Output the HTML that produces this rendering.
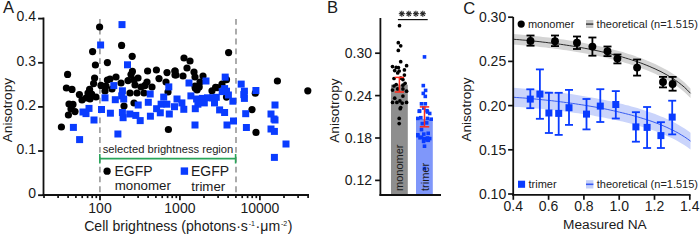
<!DOCTYPE html>
<html><head><meta charset="utf-8"><style>html,body{margin:0;padding:0;background:#fff;width:700px;height:235px;overflow:hidden}svg{display:block}text{font-family:"Liberation Sans",sans-serif}</style></head>
<body><svg width="700" height="235" viewBox="0 0 700 235">
<rect width="700" height="235" fill="#fff"/>
<text x="3" y="12.9" font-size="16.6" font-family="'Liberation Sans', sans-serif" fill="#1a1a1a">A</text>
<line x1="43.5" y1="17.5" x2="43.5" y2="196" stroke="#111" stroke-width="1.8"/>
<line x1="38.1" y1="195.2" x2="43.5" y2="195.2" stroke="#111" stroke-width="1.8"/>
<text x="36" y="198.0" font-size="14" text-anchor="end" font-family="'Liberation Sans', sans-serif" fill="#1a1a1a">0</text>
<line x1="38.1" y1="151.0" x2="43.5" y2="151.0" stroke="#111" stroke-width="1.8"/>
<text x="36" y="153.8" font-size="14" text-anchor="end" font-family="'Liberation Sans', sans-serif" fill="#1a1a1a">0.1</text>
<line x1="38.1" y1="106.9" x2="43.5" y2="106.9" stroke="#111" stroke-width="1.8"/>
<text x="36" y="109.7" font-size="14" text-anchor="end" font-family="'Liberation Sans', sans-serif" fill="#1a1a1a">0.2</text>
<line x1="38.1" y1="62.8" x2="43.5" y2="62.8" stroke="#111" stroke-width="1.8"/>
<text x="36" y="65.6" font-size="14" text-anchor="end" font-family="'Liberation Sans', sans-serif" fill="#1a1a1a">0.3</text>
<line x1="38.1" y1="18.6" x2="43.5" y2="18.6" stroke="#111" stroke-width="1.8"/>
<text x="36" y="21.4" font-size="14" text-anchor="end" font-family="'Liberation Sans', sans-serif" fill="#1a1a1a">0.4</text>
<line x1="42.6" y1="195" x2="309" y2="195" stroke="#111" stroke-width="1.8"/>
<line x1="44.0" y1="195" x2="44.0" y2="198.1" stroke="#111" stroke-width="1.7"/>
<line x1="58.1" y1="195" x2="58.1" y2="198.1" stroke="#111" stroke-width="1.7"/>
<line x1="68.1" y1="195" x2="68.1" y2="198.1" stroke="#111" stroke-width="1.7"/>
<line x1="75.9" y1="195" x2="75.9" y2="198.1" stroke="#111" stroke-width="1.7"/>
<line x1="82.2" y1="195" x2="82.2" y2="198.1" stroke="#111" stroke-width="1.7"/>
<line x1="87.6" y1="195" x2="87.6" y2="198.1" stroke="#111" stroke-width="1.7"/>
<line x1="92.2" y1="195" x2="92.2" y2="198.1" stroke="#111" stroke-width="1.7"/>
<line x1="96.3" y1="195" x2="96.3" y2="198.1" stroke="#111" stroke-width="1.7"/>
<line x1="100.0" y1="195" x2="100.0" y2="200.2" stroke="#111" stroke-width="1.8"/>
<line x1="124.0" y1="195" x2="124.0" y2="198.1" stroke="#111" stroke-width="1.7"/>
<line x1="138.1" y1="195" x2="138.1" y2="198.1" stroke="#111" stroke-width="1.7"/>
<line x1="148.1" y1="195" x2="148.1" y2="198.1" stroke="#111" stroke-width="1.7"/>
<line x1="155.9" y1="195" x2="155.9" y2="198.1" stroke="#111" stroke-width="1.7"/>
<line x1="162.2" y1="195" x2="162.2" y2="198.1" stroke="#111" stroke-width="1.7"/>
<line x1="167.6" y1="195" x2="167.6" y2="198.1" stroke="#111" stroke-width="1.7"/>
<line x1="172.2" y1="195" x2="172.2" y2="198.1" stroke="#111" stroke-width="1.7"/>
<line x1="176.3" y1="195" x2="176.3" y2="198.1" stroke="#111" stroke-width="1.7"/>
<line x1="179.9" y1="195" x2="179.9" y2="200.2" stroke="#111" stroke-width="1.8"/>
<line x1="204.0" y1="195" x2="204.0" y2="198.1" stroke="#111" stroke-width="1.7"/>
<line x1="218.1" y1="195" x2="218.1" y2="198.1" stroke="#111" stroke-width="1.7"/>
<line x1="228.1" y1="195" x2="228.1" y2="198.1" stroke="#111" stroke-width="1.7"/>
<line x1="235.9" y1="195" x2="235.9" y2="198.1" stroke="#111" stroke-width="1.7"/>
<line x1="242.2" y1="195" x2="242.2" y2="198.1" stroke="#111" stroke-width="1.7"/>
<line x1="247.6" y1="195" x2="247.6" y2="198.1" stroke="#111" stroke-width="1.7"/>
<line x1="252.2" y1="195" x2="252.2" y2="198.1" stroke="#111" stroke-width="1.7"/>
<line x1="256.3" y1="195" x2="256.3" y2="198.1" stroke="#111" stroke-width="1.7"/>
<line x1="259.9" y1="195" x2="259.9" y2="200.2" stroke="#111" stroke-width="1.8"/>
<line x1="284.0" y1="195" x2="284.0" y2="198.1" stroke="#111" stroke-width="1.7"/>
<line x1="298.1" y1="195" x2="298.1" y2="198.1" stroke="#111" stroke-width="1.7"/>
<line x1="308.1" y1="195" x2="308.1" y2="198.1" stroke="#111" stroke-width="1.7"/>
<text x="100.0" y="212.8" font-size="14" text-anchor="middle" font-family="'Liberation Sans', sans-serif" fill="#1a1a1a">100</text>
<text x="179.9" y="212.8" font-size="14" text-anchor="middle" font-family="'Liberation Sans', sans-serif" fill="#1a1a1a">1000</text>
<text x="259.9" y="212.8" font-size="14" text-anchor="middle" font-family="'Liberation Sans', sans-serif" fill="#1a1a1a">10000</text>
<text x="84.2" y="230.9" font-size="14.1" font-family="'Liberation Sans', sans-serif" fill="#1a1a1a">Cell brightness (photons·s<tspan font-size="7" dy="-4.6" dx="0.8">-1</tspan><tspan dy="4.6" dx="0.6">·μm</tspan><tspan font-size="7" dy="-4.6" dx="0.8">-2</tspan><tspan dy="4.6" dx="0.6">)</tspan></text>
<text transform="translate(12,142.2) rotate(-90)" font-size="13.6" font-family="'Liberation Sans', sans-serif" fill="#1a1a1a">Anisotropy</text>
<line x1="99.9" y1="18.9" x2="99.9" y2="195" stroke="#a3a3a3" stroke-width="1.8" stroke-dasharray="5.8,4.05"/>
<line x1="236.0" y1="18.9" x2="236.0" y2="195" stroke="#a3a3a3" stroke-width="1.8" stroke-dasharray="5.8,4.05"/>
<g stroke="#2aa55a" stroke-width="1.6" fill="none"><line x1="99.8" y1="158.6" x2="235.6" y2="158.6"/><line x1="99.8" y1="154" x2="99.8" y2="163.5"/><line x1="235.6" y1="154" x2="235.6" y2="163.5"/></g>
<text x="102.7" y="152.6" font-size="11.2" font-family="'Liberation Sans', sans-serif" fill="#1a1a1a">selected brightness region</text>
<circle cx="107.1" cy="171.2" r="3.65" fill="#000"/>
<text x="114.5" y="176.3" font-size="14" font-family="'Liberation Sans', sans-serif" fill="#1a1a1a">EGFP</text>
<text x="114.7" y="189.6" font-size="13.3" font-family="'Liberation Sans', sans-serif" fill="#1a1a1a">monomer</text>
<rect x="180.7" y="167.4" width="7.4" height="7.4" fill="#0a3cff"/>
<text x="191" y="176.3" font-size="14" font-family="'Liberation Sans', sans-serif" fill="#1a1a1a">EGFP</text>
<text x="191.3" y="190.9" font-size="13.3" font-family="'Liberation Sans', sans-serif" fill="#1a1a1a">trimer</text>
<text x="327" y="12.9" font-size="16.6" font-family="'Liberation Sans', sans-serif" fill="#1a1a1a">B</text>
<rect x="391" y="84.7" width="16.8" height="110.3" fill="#8e8e8e"/>
<rect x="416" y="118.9" width="16.8" height="76.1" fill="#7f97fa"/>
<line x1="380.4" y1="18" x2="380.4" y2="195.8" stroke="#111" stroke-width="1.8"/>
<line x1="379.5" y1="195" x2="441" y2="195" stroke="#111" stroke-width="1.8"/>
<line x1="375.1" y1="53.2" x2="380.4" y2="53.2" stroke="#111" stroke-width="1.7"/>
<text x="372" y="58.1" font-size="14" text-anchor="end" font-family="'Liberation Sans', sans-serif" fill="#1a1a1a">0.30</text>
<line x1="375.1" y1="95.6" x2="380.4" y2="95.6" stroke="#111" stroke-width="1.7"/>
<text x="372" y="100.5" font-size="14" text-anchor="end" font-family="'Liberation Sans', sans-serif" fill="#1a1a1a">0.24</text>
<line x1="375.1" y1="138.0" x2="380.4" y2="138.0" stroke="#111" stroke-width="1.7"/>
<text x="372" y="142.9" font-size="14" text-anchor="end" font-family="'Liberation Sans', sans-serif" fill="#1a1a1a">0.18</text>
<line x1="375.1" y1="180.4" x2="380.4" y2="180.4" stroke="#111" stroke-width="1.7"/>
<text x="372" y="185.3" font-size="14" text-anchor="end" font-family="'Liberation Sans', sans-serif" fill="#1a1a1a">0.12</text>
<text transform="translate(339.3,142.7) rotate(-90)" font-size="13.6" font-family="'Liberation Sans', sans-serif" fill="#1a1a1a">Anisotropy</text>
<line x1="397.9" y1="19.6" x2="427.7" y2="19.6" stroke="#111" stroke-width="1.2"/>
<g stroke="#222" stroke-width="1.1"><line x1="401.8" y1="10.7" x2="401.8" y2="16.7"/><line x1="398.8" y1="13.7" x2="404.8" y2="13.7"/><line x1="399.7" y1="11.6" x2="403.90000000000003" y2="15.799999999999999"/><line x1="399.7" y1="15.799999999999999" x2="403.90000000000003" y2="11.6"/></g>
<g stroke="#222" stroke-width="1.1"><line x1="408.8" y1="10.7" x2="408.8" y2="16.7"/><line x1="405.8" y1="13.7" x2="411.8" y2="13.7"/><line x1="406.7" y1="11.6" x2="410.90000000000003" y2="15.799999999999999"/><line x1="406.7" y1="15.799999999999999" x2="410.90000000000003" y2="11.6"/></g>
<g stroke="#222" stroke-width="1.1"><line x1="415.9" y1="10.7" x2="415.9" y2="16.7"/><line x1="412.9" y1="13.7" x2="418.9" y2="13.7"/><line x1="413.79999999999995" y1="11.6" x2="418.0" y2="15.799999999999999"/><line x1="413.79999999999995" y1="15.799999999999999" x2="418.0" y2="11.6"/></g>
<g stroke="#222" stroke-width="1.1"><line x1="422.8" y1="10.7" x2="422.8" y2="16.7"/><line x1="419.8" y1="13.7" x2="425.8" y2="13.7"/><line x1="420.7" y1="11.6" x2="424.90000000000003" y2="15.799999999999999"/><line x1="420.7" y1="15.799999999999999" x2="424.90000000000003" y2="11.6"/></g>
<circle cx="399.5" cy="25.7" r="1.85" fill="#000"/>
<circle cx="398.3" cy="42.7" r="1.85" fill="#000"/>
<circle cx="400.7" cy="45.8" r="1.85" fill="#000"/>
<circle cx="398.3" cy="50.4" r="1.85" fill="#000"/>
<circle cx="400.7" cy="61.7" r="1.85" fill="#000"/>
<circle cx="392.5" cy="66.6" r="1.85" fill="#000"/>
<circle cx="406.6" cy="65.7" r="1.85" fill="#000"/>
<circle cx="396.2" cy="67.4" r="1.85" fill="#000"/>
<circle cx="398.4" cy="67.6" r="1.85" fill="#000"/>
<circle cx="394.7" cy="70.6" r="1.85" fill="#000"/>
<circle cx="399.2" cy="71" r="1.85" fill="#000"/>
<circle cx="404.4" cy="69.9" r="1.85" fill="#000"/>
<circle cx="397.7" cy="72.9" r="1.85" fill="#000"/>
<circle cx="404.4" cy="75.1" r="1.85" fill="#000"/>
<circle cx="394" cy="78.5" r="1.85" fill="#000"/>
<circle cx="400.7" cy="78.1" r="1.85" fill="#000"/>
<circle cx="402.9" cy="79.6" r="1.85" fill="#000"/>
<circle cx="394" cy="86" r="1.85" fill="#000"/>
<circle cx="396.2" cy="84.5" r="1.85" fill="#000"/>
<circle cx="402.9" cy="85.2" r="1.85" fill="#000"/>
<circle cx="405.1" cy="83.3" r="1.85" fill="#000"/>
<circle cx="392.5" cy="90.1" r="1.85" fill="#000"/>
<circle cx="397.7" cy="88.9" r="1.85" fill="#000"/>
<circle cx="402.9" cy="88.9" r="1.85" fill="#000"/>
<circle cx="406.6" cy="91.2" r="1.85" fill="#000"/>
<circle cx="394.7" cy="98.2" r="1.85" fill="#000"/>
<circle cx="402.9" cy="96.1" r="1.85" fill="#000"/>
<circle cx="392.5" cy="102.4" r="1.85" fill="#000"/>
<circle cx="396.9" cy="102.4" r="1.85" fill="#000"/>
<circle cx="399.9" cy="100.9" r="1.85" fill="#000"/>
<circle cx="402.2" cy="103.1" r="1.85" fill="#000"/>
<circle cx="406.6" cy="102.4" r="1.85" fill="#000"/>
<circle cx="400.7" cy="107.6" r="1.85" fill="#000"/>
<circle cx="400.2" cy="108.7" r="1.85" fill="#000"/>
<circle cx="399.2" cy="118.4" r="1.85" fill="#000"/>
<circle cx="399.2" cy="123.6" r="1.85" fill="#000"/>
<rect x="422.7" y="55.1" width="3.6" height="3.6" fill="#0a3cff"/>
<rect x="421.5" y="83.8" width="3.6" height="3.6" fill="#0a3cff"/>
<rect x="423.8" y="88.60000000000001" width="3.6" height="3.6" fill="#0a3cff"/>
<rect x="421.5" y="91.60000000000001" width="3.6" height="3.6" fill="#0a3cff"/>
<rect x="423.5" y="94.60000000000001" width="3.6" height="3.6" fill="#0a3cff"/>
<rect x="419.7" y="102.0" width="3.6" height="3.6" fill="#0a3cff"/>
<rect x="423.5" y="102.0" width="3.6" height="3.6" fill="#0a3cff"/>
<rect x="417.5" y="109.5" width="3.6" height="3.6" fill="#0a3cff"/>
<rect x="425.7" y="110.2" width="3.6" height="3.6" fill="#0a3cff"/>
<rect x="427.9" y="111.7" width="3.6" height="3.6" fill="#0a3cff"/>
<rect x="417.8" y="109.2" width="3.6" height="3.6" fill="#0a3cff"/>
<rect x="425.2" y="108.9" width="3.6" height="3.6" fill="#0a3cff"/>
<rect x="422.0" y="106.2" width="3.6" height="3.6" fill="#0a3cff"/>
<rect x="416.0" y="116.60000000000001" width="3.6" height="3.6" fill="#0a3cff"/>
<rect x="419.0" y="115.9" width="3.6" height="3.6" fill="#0a3cff"/>
<rect x="425.7" y="116.60000000000001" width="3.6" height="3.6" fill="#0a3cff"/>
<rect x="429.4" y="117.4" width="3.6" height="3.6" fill="#0a3cff"/>
<rect x="420.5" y="121.8" width="3.6" height="3.6" fill="#0a3cff"/>
<rect x="424.9" y="121.10000000000001" width="3.6" height="3.6" fill="#0a3cff"/>
<rect x="419.7" y="127.8" width="3.6" height="3.6" fill="#0a3cff"/>
<rect x="416.0" y="133.0" width="3.6" height="3.6" fill="#0a3cff"/>
<rect x="422.0" y="132.29999999999998" width="3.6" height="3.6" fill="#0a3cff"/>
<rect x="426.4" y="131.5" width="3.6" height="3.6" fill="#0a3cff"/>
<rect x="418.2" y="136.0" width="3.6" height="3.6" fill="#0a3cff"/>
<rect x="422.7" y="136.79999999999998" width="3.6" height="3.6" fill="#0a3cff"/>
<rect x="427.9" y="136.79999999999998" width="3.6" height="3.6" fill="#0a3cff"/>
<rect x="425.7" y="138.2" width="3.6" height="3.6" fill="#0a3cff"/>
<rect x="416.0" y="133.89999999999998" width="3.6" height="3.6" fill="#0a3cff"/>
<rect x="419.7" y="135.39999999999998" width="3.6" height="3.6" fill="#0a3cff"/>
<rect x="422.0" y="138.39999999999998" width="3.6" height="3.6" fill="#0a3cff"/>
<rect x="425.7" y="136.2" width="3.6" height="3.6" fill="#0a3cff"/>
<rect x="422.7" y="144.39999999999998" width="3.6" height="3.6" fill="#0a3cff"/>
<rect x="422.7" y="166.7" width="3.6" height="3.6" fill="#0a3cff"/>
<rect x="426.5" y="138.5" width="3.6" height="3.6" fill="#0a3cff"/>
<rect x="421.8" y="139.6" width="3.6" height="3.6" fill="#0a3cff"/>
<text transform="translate(402.8,191) rotate(-90)" font-size="11" font-family="'Liberation Sans', sans-serif" fill="#1a1a1a">monomer</text>
<text transform="translate(428.5,191) rotate(-90)" font-size="11" font-family="'Liberation Sans', sans-serif" fill="#1a1a1a">trimer</text>
<g stroke="#ff2a1a" stroke-width="1.5"><line x1="399.4" y1="77.4" x2="399.4" y2="92"/><line x1="394.7" y1="77.4" x2="404.09999999999997" y2="77.4"/><line x1="394.7" y1="92" x2="404.09999999999997" y2="92"/></g>
<g stroke="#ff2a1a" stroke-width="1.5"><line x1="424.5" y1="106.9" x2="424.5" y2="126.8"/><line x1="419.8" y1="106.9" x2="429.2" y2="106.9"/><line x1="419.8" y1="126.8" x2="429.2" y2="126.8"/></g>
<text x="463.2" y="13.8" font-size="16.6" font-family="'Liberation Sans', sans-serif" fill="#1a1a1a">C</text>
<polygon points="513.3,34.0 516.3,34.2 519.2,34.5 522.2,34.7 525.1,35.0 528.1,35.3 531.0,35.6 534.0,35.9 536.9,36.2 539.9,36.5 542.8,36.9 545.8,37.2 548.7,37.6 551.7,38.0 554.6,38.4 557.6,38.8 560.6,39.2 563.5,39.6 566.5,40.1 569.4,40.5 572.4,41.0 575.3,41.5 578.3,42.0 581.2,42.5 584.2,43.1 587.1,43.7 590.1,44.2 593.0,44.8 596.0,45.5 598.9,46.1 601.9,46.8 604.9,47.5 607.8,48.2 610.8,48.9 613.7,49.7 616.7,50.5 619.6,51.3 622.6,52.1 625.5,53.0 628.5,53.9 631.4,54.8 634.4,55.8 637.3,56.9 640.3,57.9 643.2,59.0 646.2,60.2 649.2,61.4 652.1,62.7 655.1,64.0 658.0,65.4 661.0,66.9 663.9,68.4 666.9,70.1 669.8,71.8 672.8,73.7 675.7,75.6 678.7,77.8 681.6,80.1 684.6,82.6 687.5,85.4 690.5,88.5 690.5,98.1 687.5,95.0 684.6,92.2 681.6,89.7 678.7,87.4 675.7,85.3 672.8,83.3 669.8,81.5 666.9,79.8 663.9,78.2 661.0,76.6 658.0,75.2 655.1,73.8 652.1,72.5 649.2,71.2 646.2,70.0 643.2,68.9 640.3,67.8 637.3,66.7 634.4,65.7 631.4,64.7 628.5,63.8 625.5,62.9 622.6,62.1 619.6,61.2 616.7,60.4 613.7,59.7 610.8,58.9 607.8,58.2 604.9,57.5 601.9,56.8 598.9,56.2 596.0,55.5 593.0,54.9 590.1,54.3 587.1,53.8 584.2,53.2 581.2,52.7 578.3,52.2 575.3,51.7 572.4,51.2 569.4,50.8 566.5,50.3 563.5,49.9 560.6,49.5 557.6,49.0 554.6,48.7 551.7,48.3 548.7,47.9 545.8,47.6 542.8,47.2 539.9,46.9 536.9,46.6 534.0,46.3 531.0,46.0 528.1,45.7 525.1,45.5 522.2,45.2 519.2,45.0 516.3,44.7 513.3,44.5" fill="#d4d4d4"/>
<polyline points="513.3,39.2 516.3,39.5 519.2,39.7 522.2,40.0 525.1,40.2 528.1,40.5 531.0,40.8 534.0,41.1 536.9,41.4 539.9,41.7 542.8,42.1 545.8,42.4 548.7,42.8 551.7,43.1 554.6,43.5 557.6,43.9 560.6,44.3 563.5,44.7 566.5,45.2 569.4,45.6 572.4,46.1 575.3,46.6 578.3,47.1 581.2,47.6 584.2,48.2 587.1,48.7 590.1,49.3 593.0,49.9 596.0,50.5 598.9,51.1 601.9,51.8 604.9,52.5 607.8,53.2 610.8,53.9 613.7,54.7 616.7,55.4 619.6,56.2 622.6,57.1 625.5,58.0 628.5,58.9 631.4,59.8 634.4,60.8 637.3,61.8 640.3,62.8 643.2,63.9 646.2,65.1 649.2,66.3 652.1,67.6 655.1,68.9 658.0,70.3 661.0,71.7 663.9,73.3 666.9,74.9 669.8,76.7 672.8,78.5 675.7,80.5 678.7,82.6 681.6,84.9 684.6,87.4 687.5,90.2 690.5,93.3" fill="none" stroke="#222" stroke-width="0.95"/>
<polygon points="513.3,87.7 516.3,88.0 519.2,88.2 522.2,88.5 525.1,88.7 528.1,89.0 531.0,89.3 534.0,89.5 536.9,89.8 539.9,90.2 542.8,90.5 545.8,90.8 548.7,91.1 551.7,91.5 554.6,91.9 557.6,92.2 560.6,92.6 563.5,93.0 566.5,93.4 569.4,93.8 572.4,94.3 575.3,94.7 578.3,95.2 581.2,95.7 584.2,96.2 587.1,96.7 590.1,97.2 593.0,97.7 596.0,98.3 598.9,98.9 601.9,99.4 604.9,100.0 607.8,100.7 610.8,101.3 613.7,102.0 616.7,102.7 619.6,103.4 622.6,104.1 625.5,104.9 628.5,105.6 631.4,106.4 634.4,107.3 637.3,108.1 640.3,109.0 643.2,110.0 646.2,110.9 649.2,111.9 652.1,113.0 655.1,114.1 658.0,115.2 661.0,116.4 663.9,117.6 666.9,118.9 669.8,120.3 672.8,121.8 675.7,123.3 678.7,124.9 681.6,126.7 684.6,128.6 687.5,130.6 690.5,132.8 690.5,149.4 687.5,147.3 684.6,145.3 681.6,143.4 678.7,141.7 675.7,140.1 672.8,138.6 669.8,137.2 666.9,135.9 663.9,134.6 661.0,133.4 658.0,132.2 655.1,131.1 652.1,130.1 649.2,129.1 646.2,128.1 643.2,127.2 640.3,126.3 637.3,125.5 634.4,124.6 631.4,123.8 628.5,123.1 625.5,122.3 622.6,121.6 619.6,120.9 616.7,120.3 613.7,119.6 610.8,119.0 607.8,118.4 604.9,117.8 601.9,117.2 598.9,116.7 596.0,116.2 593.0,115.6 590.1,115.1 587.1,114.7 584.2,114.2 581.2,113.7 578.3,113.3 575.3,112.9 572.4,112.5 569.4,112.1 566.5,111.7 563.5,111.3 560.6,111.0 557.6,110.6 554.6,110.3 551.7,110.0 548.7,109.7 545.8,109.4 542.8,109.1 539.9,108.8 536.9,108.5 534.0,108.3 531.0,108.0 528.1,107.8 525.1,107.6 522.2,107.3 519.2,107.1 516.3,106.9 513.3,106.7" fill="#cad4fb"/>
<polyline points="513.3,97.2 516.3,97.5 519.2,97.7 522.2,97.9 525.1,98.1 528.1,98.4 531.0,98.6 534.0,98.9 536.9,99.2 539.9,99.5 542.8,99.8 545.8,100.1 548.7,100.4 551.7,100.7 554.6,101.1 557.6,101.4 560.6,101.8 563.5,102.2 566.5,102.6 569.4,103.0 572.4,103.4 575.3,103.8 578.3,104.3 581.2,104.7 584.2,105.2 587.1,105.7 590.1,106.2 593.0,106.7 596.0,107.2 598.9,107.8 601.9,108.3 604.9,108.9 607.8,109.5 610.8,110.2 613.7,110.8 616.7,111.5 619.6,112.2 622.6,112.9 625.5,113.6 628.5,114.4 631.4,115.1 634.4,116.0 637.3,116.8 640.3,117.7 643.2,118.6 646.2,119.5 649.2,120.5 652.1,121.5 655.1,122.6 658.0,123.7 661.0,124.9 663.9,126.1 666.9,127.4 669.8,128.8 672.8,130.2 675.7,131.7 678.7,133.3 681.6,135.1 684.6,136.9 687.5,138.9 690.5,141.1" fill="none" stroke="#2f55f0" stroke-width="0.95"/>
<line x1="513.2" y1="17" x2="513.2" y2="195.8" stroke="#111" stroke-width="1.8"/>
<line x1="512.3" y1="194.9" x2="690.6" y2="194.9" stroke="#111" stroke-width="1.8"/>
<line x1="508.1" y1="17.2" x2="513.2" y2="17.2" stroke="#111" stroke-width="1.7"/>
<text x="506.2" y="22.1" font-size="14" text-anchor="end" font-family="'Liberation Sans', sans-serif" fill="#1a1a1a">0.30</text>
<line x1="508.1" y1="61.4" x2="513.2" y2="61.4" stroke="#111" stroke-width="1.7"/>
<text x="506.2" y="66.3" font-size="14" text-anchor="end" font-family="'Liberation Sans', sans-serif" fill="#1a1a1a">0.25</text>
<line x1="508.1" y1="105.6" x2="513.2" y2="105.6" stroke="#111" stroke-width="1.7"/>
<text x="506.2" y="110.5" font-size="14" text-anchor="end" font-family="'Liberation Sans', sans-serif" fill="#1a1a1a">0.20</text>
<line x1="508.1" y1="149.8" x2="513.2" y2="149.8" stroke="#111" stroke-width="1.7"/>
<text x="506.2" y="154.7" font-size="14" text-anchor="end" font-family="'Liberation Sans', sans-serif" fill="#1a1a1a">0.15</text>
<line x1="508.1" y1="194.0" x2="513.2" y2="194.0" stroke="#111" stroke-width="1.7"/>
<text x="506.2" y="198.9" font-size="14" text-anchor="end" font-family="'Liberation Sans', sans-serif" fill="#1a1a1a">0.10</text>
<line x1="513.3" y1="194.9" x2="513.3" y2="199.8" stroke="#111" stroke-width="1.7"/>
<text x="513.3" y="211.4" font-size="14" text-anchor="middle" font-family="'Liberation Sans', sans-serif" fill="#1a1a1a">0.4</text>
<line x1="548.6" y1="194.9" x2="548.6" y2="199.8" stroke="#111" stroke-width="1.7"/>
<text x="548.6" y="211.4" font-size="14" text-anchor="middle" font-family="'Liberation Sans', sans-serif" fill="#1a1a1a">0.6</text>
<line x1="583.9" y1="194.9" x2="583.9" y2="199.8" stroke="#111" stroke-width="1.7"/>
<text x="583.9" y="211.4" font-size="14" text-anchor="middle" font-family="'Liberation Sans', sans-serif" fill="#1a1a1a">0.8</text>
<line x1="619.2" y1="194.9" x2="619.2" y2="199.8" stroke="#111" stroke-width="1.7"/>
<text x="619.2" y="211.4" font-size="14" text-anchor="middle" font-family="'Liberation Sans', sans-serif" fill="#1a1a1a">1.0</text>
<line x1="654.5" y1="194.9" x2="654.5" y2="199.8" stroke="#111" stroke-width="1.7"/>
<text x="654.5" y="211.4" font-size="14" text-anchor="middle" font-family="'Liberation Sans', sans-serif" fill="#1a1a1a">1.2</text>
<line x1="689.8" y1="194.9" x2="689.8" y2="199.8" stroke="#111" stroke-width="1.7"/>
<text x="689.8" y="211.4" font-size="14" text-anchor="middle" font-family="'Liberation Sans', sans-serif" fill="#1a1a1a">1.4</text>
<text x="563" y="229.2" font-size="13.7" font-family="'Liberation Sans', sans-serif" fill="#1a1a1a">Measured NA</text>
<text transform="translate(470.5,141.6) rotate(-90)" font-size="13.6" font-family="'Liberation Sans', sans-serif" fill="#1a1a1a">Anisotropy</text>
<circle cx="521.2" cy="24.1" r="3.6" fill="#000"/>
<text x="527.9" y="28" font-size="11" font-family="'Liberation Sans', sans-serif" fill="#1a1a1a">monomer</text>
<rect x="586" y="20" width="7.3" height="8" fill="#c8c8c8"/><line x1="586" y1="24.1" x2="593.3" y2="24.1" stroke="#444" stroke-width="1.6"/>
<text x="596.6" y="27.8" font-size="11" font-family="'Liberation Sans', sans-serif" fill="#222">theoretical (n=1.515)</text>
<rect x="518" y="180.7" width="7.1" height="7.1" fill="#0a3cff"/>
<text x="528.5" y="187.6" font-size="11" font-family="'Liberation Sans', sans-serif" fill="#1a1a1a">trimer</text>
<rect x="586" y="180.2" width="7.4" height="8.3" fill="#c5d0f8"/><line x1="586" y1="184.3" x2="593.4" y2="184.3" stroke="#3a5af5" stroke-width="1.6"/>
<text x="596.8" y="187.7" font-size="11" font-family="'Liberation Sans', sans-serif" fill="#222">theoretical (n=1.515)</text>
<g stroke="#0a3cff" stroke-width="1.8"><line x1="530.3" y1="89.3" x2="530.3" y2="108.2"/><line x1="526.3" y1="89.3" x2="534.3" y2="89.3"/><line x1="526.3" y1="108.2" x2="534.3" y2="108.2"/></g><rect x="526.8" y="95.6" width="7" height="7" fill="#0a3cff"/>
<g stroke="#0a3cff" stroke-width="1.8"><line x1="539.9" y1="69.4" x2="539.9" y2="118.8"/><line x1="535.9" y1="69.4" x2="543.9" y2="69.4"/><line x1="535.9" y1="118.8" x2="543.9" y2="118.8"/></g><rect x="536.4" y="90.6" width="7" height="7" fill="#0a3cff"/>
<g stroke="#0a3cff" stroke-width="1.8"><line x1="548.9" y1="92.8" x2="548.9" y2="133"/><line x1="544.9" y1="92.8" x2="552.9" y2="92.8"/><line x1="544.9" y1="133" x2="552.9" y2="133"/></g><rect x="545.4" y="109.5" width="7" height="7" fill="#0a3cff"/>
<g stroke="#0a3cff" stroke-width="1.8"><line x1="558.7" y1="92.8" x2="558.7" y2="134.9"/><line x1="554.7" y1="92.8" x2="562.7" y2="92.8"/><line x1="554.7" y1="134.9" x2="562.7" y2="134.9"/></g><rect x="555.2" y="109.9" width="7" height="7" fill="#0a3cff"/>
<g stroke="#0a3cff" stroke-width="1.8"><line x1="569" y1="89.9" x2="569" y2="124.9"/><line x1="565" y1="89.9" x2="573" y2="89.9"/><line x1="565" y1="124.9" x2="573" y2="124.9"/></g><rect x="565.5" y="104.2" width="7" height="7" fill="#0a3cff"/>
<g stroke="#0a3cff" stroke-width="1.8"><line x1="586.5" y1="99" x2="586.5" y2="129.4"/><line x1="582.5" y1="99" x2="590.5" y2="99"/><line x1="582.5" y1="129.4" x2="590.5" y2="129.4"/></g><rect x="583.0" y="110.6" width="7" height="7" fill="#0a3cff"/>
<g stroke="#0a3cff" stroke-width="1.8"><line x1="600.3" y1="89.2" x2="600.3" y2="122"/><line x1="596.3" y1="89.2" x2="604.3" y2="89.2"/><line x1="596.3" y1="122" x2="604.3" y2="122"/></g><rect x="596.8" y="102.6" width="7" height="7" fill="#0a3cff"/>
<g stroke="#0a3cff" stroke-width="1.8"><line x1="615.8" y1="91.1" x2="615.8" y2="118.5"/><line x1="611.8" y1="91.1" x2="619.8" y2="91.1"/><line x1="611.8" y1="118.5" x2="619.8" y2="118.5"/></g><rect x="612.3" y="101.0" width="7" height="7" fill="#0a3cff"/>
<g stroke="#0a3cff" stroke-width="1.8"><line x1="635.9" y1="112.2" x2="635.9" y2="141.7"/><line x1="631.9" y1="112.2" x2="639.9" y2="112.2"/><line x1="631.9" y1="141.7" x2="639.9" y2="141.7"/></g><rect x="632.4" y="123.4" width="7" height="7" fill="#0a3cff"/>
<g stroke="#0a3cff" stroke-width="1.8"><line x1="647.1" y1="107" x2="647.1" y2="148"/><line x1="643.1" y1="107" x2="651.1" y2="107"/><line x1="643.1" y1="148" x2="651.1" y2="148"/></g><rect x="643.6" y="123.9" width="7" height="7" fill="#0a3cff"/>
<g stroke="#0a3cff" stroke-width="1.8"><line x1="660.9" y1="122.2" x2="660.9" y2="148"/><line x1="656.9" y1="122.2" x2="664.9" y2="122.2"/><line x1="656.9" y1="148" x2="664.9" y2="148"/></g><rect x="657.4" y="132.1" width="7" height="7" fill="#0a3cff"/>
<g stroke="#0a3cff" stroke-width="1.8"><line x1="672.2" y1="100.7" x2="672.2" y2="134.4"/><line x1="668.2" y1="100.7" x2="676.2" y2="100.7"/><line x1="668.2" y1="134.4" x2="676.2" y2="134.4"/></g><rect x="668.7" y="113.6" width="7" height="7" fill="#0a3cff"/>
<g stroke="#000" stroke-width="1.8"><line x1="530.5" y1="35.5" x2="530.5" y2="45.7"/><line x1="526.5" y1="35.5" x2="534.5" y2="35.5"/><line x1="526.5" y1="45.7" x2="534.5" y2="45.7"/></g><circle cx="530.5" cy="40.9" r="3.95" fill="#000"/>
<g stroke="#000" stroke-width="1.8"><line x1="555" y1="35.5" x2="555" y2="46.1"/><line x1="551" y1="35.5" x2="559" y2="35.5"/><line x1="551" y1="46.1" x2="559" y2="46.1"/></g><circle cx="555" cy="41.3" r="3.95" fill="#000"/>
<g stroke="#000" stroke-width="1.8"><line x1="577" y1="36.5" x2="577" y2="49"/><line x1="573" y1="36.5" x2="581" y2="36.5"/><line x1="573" y1="49" x2="581" y2="49"/></g><circle cx="577" cy="42.8" r="3.95" fill="#000"/>
<g stroke="#000" stroke-width="1.8"><line x1="592.4" y1="37.5" x2="592.4" y2="55.7"/><line x1="588.4" y1="37.5" x2="596.4" y2="37.5"/><line x1="588.4" y1="55.7" x2="596.4" y2="55.7"/></g><circle cx="592.4" cy="46.6" r="3.95" fill="#000"/>
<g stroke="#000" stroke-width="1.8"><line x1="607.5" y1="46.5" x2="607.5" y2="56.1"/><line x1="603.5" y1="46.5" x2="611.5" y2="46.5"/><line x1="603.5" y1="56.1" x2="611.5" y2="56.1"/></g><circle cx="607.5" cy="51.3" r="3.95" fill="#000"/>
<g stroke="#000" stroke-width="1.8"><line x1="617.4" y1="54.5" x2="617.4" y2="63.4"/><line x1="613.4" y1="54.5" x2="621.4" y2="54.5"/><line x1="613.4" y1="63.4" x2="621.4" y2="63.4"/></g><circle cx="617.4" cy="58.6" r="3.95" fill="#000"/>
<g stroke="#000" stroke-width="1.8"><line x1="637.1" y1="59.5" x2="637.1" y2="75.6"/><line x1="633.1" y1="59.5" x2="641.1" y2="59.5"/><line x1="633.1" y1="75.6" x2="641.1" y2="75.6"/></g><circle cx="637.1" cy="67.6" r="3.95" fill="#000"/>
<g stroke="#000" stroke-width="1.8"><line x1="663" y1="76.9" x2="663" y2="87.4"/><line x1="659" y1="76.9" x2="667" y2="76.9"/><line x1="659" y1="87.4" x2="667" y2="87.4"/></g><circle cx="663" cy="82" r="3.95" fill="#000"/>
<g stroke="#000" stroke-width="1.8"><line x1="672.6" y1="76.9" x2="672.6" y2="90.7"/><line x1="668.6" y1="76.9" x2="676.6" y2="76.9"/><line x1="668.6" y1="90.7" x2="676.6" y2="90.7"/></g><circle cx="672.6" cy="84" r="3.95" fill="#000"/>
<circle cx="99.6" cy="27" r="3.6" fill="#000"/>
<circle cx="92.6" cy="51.6" r="3.6" fill="#000"/>
<circle cx="107.4" cy="62.6" r="3.6" fill="#000"/>
<circle cx="95.4" cy="65" r="3.6" fill="#000"/>
<circle cx="67.6" cy="74.4" r="3.6" fill="#000"/>
<circle cx="94.6" cy="78" r="3.6" fill="#000"/>
<circle cx="93.6" cy="83.6" r="3.6" fill="#000"/>
<circle cx="66.4" cy="88" r="3.6" fill="#000"/>
<circle cx="72" cy="89.4" r="3.6" fill="#000"/>
<circle cx="89.6" cy="89.4" r="3.6" fill="#000"/>
<circle cx="101" cy="85.4" r="3.6" fill="#000"/>
<circle cx="107.4" cy="80" r="3.6" fill="#000"/>
<circle cx="106" cy="86" r="3.6" fill="#000"/>
<circle cx="79.4" cy="94.6" r="3.6" fill="#000"/>
<circle cx="88" cy="93" r="3.6" fill="#000"/>
<circle cx="91.6" cy="94" r="3.6" fill="#000"/>
<circle cx="96" cy="97" r="3.6" fill="#000"/>
<circle cx="86" cy="98" r="3.6" fill="#000"/>
<circle cx="82" cy="100" r="3.6" fill="#000"/>
<circle cx="90" cy="99" r="3.6" fill="#000"/>
<circle cx="105" cy="91" r="3.6" fill="#000"/>
<circle cx="69" cy="104" r="3.6" fill="#000"/>
<circle cx="73" cy="104.4" r="3.6" fill="#000"/>
<circle cx="71" cy="109" r="3.6" fill="#000"/>
<circle cx="75" cy="111.6" r="3.6" fill="#000"/>
<circle cx="68.4" cy="115" r="3.6" fill="#000"/>
<circle cx="61.4" cy="127" r="3.6" fill="#000"/>
<circle cx="121.6" cy="45.4" r="3.6" fill="#000"/>
<circle cx="132.2" cy="56.3" r="3.6" fill="#000"/>
<circle cx="132.4" cy="71.4" r="3.6" fill="#000"/>
<circle cx="131" cy="74.6" r="3.6" fill="#000"/>
<circle cx="147.6" cy="71" r="3.6" fill="#000"/>
<circle cx="156.4" cy="70" r="3.6" fill="#000"/>
<circle cx="167" cy="72.6" r="3.6" fill="#000"/>
<circle cx="175" cy="71" r="3.6" fill="#000"/>
<circle cx="176" cy="75" r="3.6" fill="#000"/>
<circle cx="116" cy="77" r="3.6" fill="#000"/>
<circle cx="110" cy="79" r="3.6" fill="#000"/>
<circle cx="128" cy="80.6" r="3.6" fill="#000"/>
<circle cx="138" cy="78" r="3.6" fill="#000"/>
<circle cx="134" cy="80" r="3.6" fill="#000"/>
<circle cx="121" cy="83" r="3.6" fill="#000"/>
<circle cx="147" cy="82" r="3.6" fill="#000"/>
<circle cx="159" cy="78.6" r="3.6" fill="#000"/>
<circle cx="166" cy="82" r="3.6" fill="#000"/>
<circle cx="141" cy="87" r="3.6" fill="#000"/>
<circle cx="145" cy="85.4" r="3.6" fill="#000"/>
<circle cx="152" cy="87" r="3.6" fill="#000"/>
<circle cx="135" cy="85" r="3.6" fill="#000"/>
<circle cx="112" cy="89" r="3.6" fill="#000"/>
<circle cx="130" cy="93" r="3.6" fill="#000"/>
<circle cx="137" cy="93" r="3.6" fill="#000"/>
<circle cx="144" cy="93" r="3.6" fill="#000"/>
<circle cx="168" cy="92" r="3.6" fill="#000"/>
<circle cx="124" cy="106" r="3.6" fill="#000"/>
<circle cx="134" cy="103" r="3.6" fill="#000"/>
<circle cx="168.4" cy="129.5" r="3.6" fill="#000"/>
<circle cx="228.6" cy="52.6" r="3.6" fill="#000"/>
<circle cx="184" cy="58" r="3.6" fill="#000"/>
<circle cx="190" cy="61" r="3.6" fill="#000"/>
<circle cx="187" cy="68" r="3.6" fill="#000"/>
<circle cx="175" cy="71" r="3.6" fill="#000"/>
<circle cx="175" cy="75" r="3.6" fill="#000"/>
<circle cx="183" cy="76" r="3.6" fill="#000"/>
<circle cx="194" cy="72" r="3.6" fill="#000"/>
<circle cx="195" cy="77" r="3.6" fill="#000"/>
<circle cx="203" cy="76" r="3.6" fill="#000"/>
<circle cx="200" cy="82" r="3.6" fill="#000"/>
<circle cx="195" cy="86" r="3.6" fill="#000"/>
<circle cx="197" cy="90" r="3.6" fill="#000"/>
<circle cx="212" cy="90.8" r="3.6" fill="#000"/>
<circle cx="217.1" cy="87.6" r="3.6" fill="#000"/>
<circle cx="222" cy="84.1" r="3.6" fill="#000"/>
<circle cx="226.5" cy="79.7" r="3.6" fill="#000"/>
<circle cx="226.5" cy="97.1" r="3.6" fill="#000"/>
<circle cx="215.6" cy="87.3" r="3.6" fill="#000"/>
<circle cx="195.3" cy="88.2" r="3.6" fill="#000"/>
<circle cx="199.2" cy="86.9" r="3.6" fill="#000"/>
<circle cx="277.4" cy="81" r="3.6" fill="#000"/>
<circle cx="255.3" cy="93.2" r="3.6" fill="#000"/>
<circle cx="307.8" cy="90.8" r="3.6" fill="#000"/>
<circle cx="252" cy="109.6" r="3.6" fill="#000"/>
<circle cx="256" cy="132.4" r="3.6" fill="#000"/>
<rect x="97.1" y="41.5" width="7" height="7" fill="#0a3cff"/>
<rect x="85.5" y="104.9" width="7" height="7" fill="#0a3cff"/>
<rect x="79.5" y="108.5" width="7" height="7" fill="#0a3cff"/>
<rect x="82.5" y="110.1" width="7" height="7" fill="#0a3cff"/>
<rect x="90.5" y="116.5" width="7" height="7" fill="#0a3cff"/>
<rect x="69.9" y="123.9" width="7" height="7" fill="#0a3cff"/>
<rect x="76.1" y="136.1" width="7" height="7" fill="#0a3cff"/>
<rect x="101.5" y="94.3" width="7" height="7" fill="#0a3cff"/>
<rect x="98.0" y="106.0" width="7" height="7" fill="#0a3cff"/>
<rect x="106.9" y="109.7" width="7" height="7" fill="#0a3cff"/>
<rect x="118.5" y="21.1" width="7" height="7" fill="#0a3cff"/>
<rect x="124.0" y="61.3" width="7" height="7" fill="#0a3cff"/>
<rect x="110.3" y="82.1" width="7" height="7" fill="#0a3cff"/>
<rect x="111.8" y="96.2" width="7" height="7" fill="#0a3cff"/>
<rect x="118.9" y="87.3" width="7" height="7" fill="#0a3cff"/>
<rect x="118.2" y="92.4" width="7" height="7" fill="#0a3cff"/>
<rect x="120.2" y="95.5" width="7" height="7" fill="#0a3cff"/>
<rect x="118.9" y="109.0" width="7" height="7" fill="#0a3cff"/>
<rect x="119.6" y="114.2" width="7" height="7" fill="#0a3cff"/>
<rect x="126.30000000000001" y="110.5" width="7" height="7" fill="#0a3cff"/>
<rect x="132.3" y="111.9" width="7" height="7" fill="#0a3cff"/>
<rect x="136.7" y="117.1" width="7" height="7" fill="#0a3cff"/>
<rect x="134.7" y="101.5" width="7" height="7" fill="#0a3cff"/>
<rect x="114.4" y="130.5" width="7" height="7" fill="#0a3cff"/>
<rect x="146.7" y="90.5" width="7" height="7" fill="#0a3cff"/>
<rect x="144.8" y="98.8" width="7" height="7" fill="#0a3cff"/>
<rect x="160.2" y="93.6" width="7" height="7" fill="#0a3cff"/>
<rect x="165.3" y="83.4" width="7" height="7" fill="#0a3cff"/>
<rect x="157.6" y="100.7" width="7" height="7" fill="#0a3cff"/>
<rect x="153.1" y="105.2" width="7" height="7" fill="#0a3cff"/>
<rect x="163.4" y="100.7" width="7" height="7" fill="#0a3cff"/>
<rect x="171.0" y="103.2" width="7" height="7" fill="#0a3cff"/>
<rect x="156.8" y="109.3" width="7" height="7" fill="#0a3cff"/>
<rect x="165.8" y="110.5" width="7" height="7" fill="#0a3cff"/>
<rect x="146.9" y="112.7" width="7" height="7" fill="#0a3cff"/>
<rect x="173.5" y="95.5" width="7" height="7" fill="#0a3cff"/>
<rect x="178.4" y="99.4" width="7" height="7" fill="#0a3cff"/>
<rect x="180.3" y="105.8" width="7" height="7" fill="#0a3cff"/>
<rect x="185.5" y="79.5" width="7" height="7" fill="#0a3cff"/>
<rect x="202.5" y="77.5" width="7" height="7" fill="#0a3cff"/>
<rect x="187.4" y="92.4" width="7" height="7" fill="#0a3cff"/>
<rect x="193.1" y="95.5" width="7" height="7" fill="#0a3cff"/>
<rect x="198.9" y="94.9" width="7" height="7" fill="#0a3cff"/>
<rect x="204.0" y="94.3" width="7" height="7" fill="#0a3cff"/>
<rect x="209.1" y="94.3" width="7" height="7" fill="#0a3cff"/>
<rect x="211.0" y="99.4" width="7" height="7" fill="#0a3cff"/>
<rect x="194.4" y="100.7" width="7" height="7" fill="#0a3cff"/>
<rect x="200.8" y="99.4" width="7" height="7" fill="#0a3cff"/>
<rect x="191.8" y="105.2" width="7" height="7" fill="#0a3cff"/>
<rect x="216.1" y="106.4" width="7" height="7" fill="#0a3cff"/>
<rect x="221.1" y="109.0" width="7" height="7" fill="#0a3cff"/>
<rect x="218.7" y="88.1" width="7" height="7" fill="#0a3cff"/>
<rect x="221.7" y="73.6" width="7" height="7" fill="#0a3cff"/>
<rect x="221.1" y="85.1" width="7" height="7" fill="#0a3cff"/>
<rect x="223.0" y="87.7" width="7" height="7" fill="#0a3cff"/>
<rect x="224.9" y="91.5" width="7" height="7" fill="#0a3cff"/>
<rect x="212.8" y="93.8" width="7" height="7" fill="#0a3cff"/>
<rect x="229.4" y="97.7" width="7" height="7" fill="#0a3cff"/>
<rect x="237.7" y="80.6" width="7" height="7" fill="#0a3cff"/>
<rect x="240.9" y="87.7" width="7" height="7" fill="#0a3cff"/>
<rect x="240.3" y="91.1" width="7" height="7" fill="#0a3cff"/>
<rect x="240.9" y="94.9" width="7" height="7" fill="#0a3cff"/>
<rect x="242.2" y="110.2" width="7" height="7" fill="#0a3cff"/>
<rect x="230.0" y="117.5" width="7" height="7" fill="#0a3cff"/>
<rect x="252.4" y="87.0" width="7" height="7" fill="#0a3cff"/>
<rect x="191.5" y="121.5" width="7" height="7" fill="#0a3cff"/>
<rect x="223.5" y="121.5" width="7" height="7" fill="#0a3cff"/>
<rect x="271.5" y="101.5" width="7" height="7" fill="#0a3cff"/>
<rect x="267.5" y="110.5" width="7" height="7" fill="#0a3cff"/>
<rect x="270.5" y="115.5" width="7" height="7" fill="#0a3cff"/>
<rect x="271.5" y="116.5" width="7" height="7" fill="#0a3cff"/>
<rect x="242.9" y="124.0" width="7" height="7" fill="#0a3cff"/>
<rect x="267.5" y="125.5" width="7" height="7" fill="#0a3cff"/>
<rect x="270.9" y="127.9" width="7" height="7" fill="#0a3cff"/>
<rect x="282.5" y="140.5" width="7" height="7" fill="#0a3cff"/>
<rect x="270.9" y="153.9" width="7" height="7" fill="#0a3cff"/>
</svg></body></html>
